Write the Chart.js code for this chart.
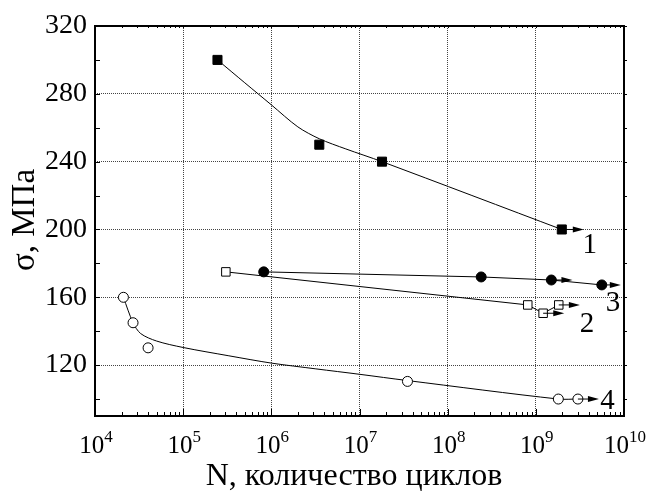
<!DOCTYPE html>
<html lang="ru">
<head>
<meta charset="UTF-8">
<title>σ – N</title>
<script src="https://cdn.jsdelivr.net/npm/chart.js"></script>
<style>
    body { margin: 0; padding: 0; background: #fff; }
    .wrap { width: 646px; height: 491px; }
</style>
</head>
<body>
<div class="wrap"><canvas id="snChart"></canvas></div>
<script>
// curve 1 - filled squares
const n1 = [2.45e5, 3.5e6, 1.8e7, 1.97e9];
const s1 = [300, 250, 240, 200];
// curve 1 drawn line
const fit1N = [2.45e5, 5e5, 1e6, 2e6, 3.5e6, 7e6, 1.8e7, 1.97e9];
const fit1S = [300, 286.5, 273.5, 260.5, 253.5, 247.5, 240, 200];
// curve 2 - open squares
const n2 = [3.05e5, 8.1e8, 1.21e9, 1.82e9];
const s2 = [175, 155.5, 150.6, 155.5];
// curve 3 - filled circles
const n3 = [8.2e5, 2.4e8, 1.5e9, 5.6e9];
const s3 = [175, 172, 170.2, 167.3];
// curve 4 - open circles (measured) and the drawn fit line
const n4 = [2.1e4, 2.7e4, 4e4, 3.5e7, 1.8e9, 3e9];
const s4 = [160, 145, 130.2, 110.4, 100, 100];
const fit4N = [2.1e4, 2.7e4, 3.3e4, 5e4, 1e5, 3.3e5, 1e6, 3.2e6, 1e7, 3.5e7, 1.8e9, 3e9];
const fit4S = [160, 145, 138.6, 134.2, 130.4, 125.5, 121.2, 117.8, 114.6, 110.9, 100, 100];

// run-out arrows: start N, end N, stress
const arrowFrom = [1.97e9, 1.21e9, 1.82e9, 1.5e9, 5.6e9, 3e9];
const arrowTo   = [3.5e9, 2.1e9, 3.16e9, 2.6e9, 9.2e9, 5.2e9];
const arrowS    = [200, 150.6, 155.5, 170.2, 167.3, 100];

// curve numbers
const curveNames = ['1', '2', '3', '4'];
const nameN = [4.1e9, 3.8e9, 7.5e9, 6.5e9];
const nameS = [190.5, 144, 156.5, 98.5];

const xExponents = [4, 5, 6, 7, 8, 9, 10];
const yTicks = [120, 160, 200, 240, 280, 320];

const pts = (xs, ys) => xs.map((v, i) => ({x: v, y: ys[i]}));
const serif = "'Liberation Serif', 'Times New Roman', serif";

const framePlugin = {
    id: 'frame',
    afterDatasetsDraw(chart) {
        const {ctx, scales: {x, y}} = chart;
        ctx.save();
        ctx.strokeStyle = '#000';
        ctx.fillStyle = '#000';
        ctx.lineWidth = 1;
        arrowFrom.forEach((f, i) => {
            const x0 = x.getPixelForValue(f);
            const x1 = x.getPixelForValue(arrowTo[i]);
            const py = y.getPixelForValue(arrowS[i]);
            ctx.beginPath();
            ctx.moveTo(x0, py);
            ctx.lineTo(x1 - 8, py);
            ctx.stroke();
            ctx.beginPath();
            ctx.moveTo(x1, py);
            ctx.lineTo(x1 - 11, py - 3);
            ctx.lineTo(x1 - 11, py + 3);
            ctx.closePath();
            ctx.fill();
        });
        ctx.restore();
    },
    afterDraw(chart) {
        const {ctx, chartArea: a, scales: {x, y}} = chart;
        ctx.save();
        ctx.strokeStyle = '#000';
        ctx.fillStyle = '#000';
        ctx.lineWidth = 1;

        // bottom / top ticks
        for (let e = 4; e < 10; e++) {
            for (let m = 1; m < 10; m++) {
                const px = Math.round(x.getPixelForValue(m * Math.pow(10, e))) + 0.5;
                const len = m === 1 ? 7 : 4;
                ctx.beginPath();
                ctx.moveTo(px, a.bottom);
                ctx.lineTo(px, a.bottom - len);
                ctx.moveTo(px, a.top);
                ctx.lineTo(px, a.top + 2);
                ctx.stroke();
            }
        }
        // left / right ticks
        for (let v = 100; v <= 320; v += 20) {
            const py = Math.round(y.getPixelForValue(v)) + 0.5;
            ctx.beginPath();
            ctx.moveTo(a.left, py);
            ctx.lineTo(a.left + 5, py);
            ctx.moveTo(a.right, py);
            ctx.lineTo(a.right + 3, py);
            ctx.stroke();
        }

        // frame
        ctx.lineWidth = 2;
        ctx.strokeRect(a.left, a.top, a.right - a.left, a.bottom - a.top);

        // x tick labels 10^n
        ctx.textBaseline = 'alphabetic';
        ctx.textAlign = 'left';
        xExponents.forEach(e => {
            const px = x.getPixelForValue(Math.pow(10, e));
            ctx.font = '25px ' + serif;
            const w1 = ctx.measureText('10').width;
            ctx.font = '17px ' + serif;
            const w2 = ctx.measureText(String(e)).width;
            const left = px - (w1 + w2) / 2 + 1;
            ctx.font = '25px ' + serif;
            ctx.fillText('10', left, a.bottom + 37);
            ctx.font = '17px ' + serif;
            ctx.fillText(String(e), left + w1, a.bottom + 26);
        });

        // axis titles
        ctx.font = '32px ' + serif;
        ctx.textAlign = 'center';
        ctx.fillText('N, количество циклов', 354, 485);
        ctx.save();
        ctx.translate(34, 220);
        ctx.rotate(-Math.PI / 2);
        ctx.font = '33px ' + serif;
        ctx.fillText('σ, МПа', 0, 0);
        ctx.restore();

        // curve numbers
        ctx.font = '29px ' + serif;
        ctx.textBaseline = 'middle';
        curveNames.forEach((t, i) => {
            ctx.fillText(t, x.getPixelForValue(nameN[i]), y.getPixelForValue(nameS[i]));
        });
        ctx.restore();
    }
};

const black = '#000';
new Chart(document.getElementById('snChart'), {
    type: 'line',
    data: {
        datasets: [
            {
                label: '1', data: pts(n1, s1), order: 1, showLine: false,
                pointStyle: 'rect', pointRadius: 6.4, pointBackgroundColor: black, pointBorderColor: black
            },
            {
                label: '2', data: pts(n2, s2), order: 2,
                borderColor: black, borderWidth: 1, tension: 0,
                pointStyle: 'rect', pointRadius: 6, pointBackgroundColor: '#fff', pointBorderColor: black, pointBorderWidth: 1
            },
            {
                label: '3', data: pts(n3, s3), order: 3,
                borderColor: black, borderWidth: 1, tension: 0,
                pointStyle: 'circle', pointRadius: 5, pointBackgroundColor: black, pointBorderColor: black
            },
            {
                label: '4', data: pts(n4, s4), order: 4, showLine: false,
                pointStyle: 'circle', pointRadius: 5, pointBackgroundColor: '#fff', pointBorderColor: black, pointBorderWidth: 1
            },
            {
                label: 'fit 1', data: pts(fit1N, fit1S), order: 5,
                borderColor: black, borderWidth: 1, tension: 0.3, pointRadius: 0
            },
            {
                label: 'fit 4', data: pts(fit4N, fit4S), order: 6,
                borderColor: black, borderWidth: 1, tension: 0.3, pointRadius: 0
            }
        ]
    },
    options: {
        responsive: true,
        maintainAspectRatio: false,
        animation: false,
        events: [],
        layout: { padding: { top: 26, right: 22, left: 0, bottom: 0 } },
        plugins: { legend: { display: false }, tooltip: { enabled: false } },
        scales: {
            x: {
                type: 'logarithmic',
                min: 1e4,
                max: 1e10,
                afterBuildTicks: s => { s.ticks = xExponents.map(e => ({value: Math.pow(10, e)})); },
                afterFit: s => { s.height = 75; },
                ticks: { display: false },
                grid: { color: '#444', lineWidth: 1, drawTicks: false },
                border: { display: false, dash: [1, 1] }
            },
            y: {
                type: 'linear',
                min: 90,
                max: 320,
                afterBuildTicks: s => { s.ticks = yTicks.map(v => ({value: v})); },
                afterFit: s => { s.width = 95; },
                ticks: { color: black, padding: 8, font: { family: serif, size: 28 } },
                grid: { color: '#444', lineWidth: 1, drawTicks: false },
                border: { display: false, dash: [1, 1] }
            }
        }
    },
    plugins: [framePlugin]
});
</script>
</body>
</html>
